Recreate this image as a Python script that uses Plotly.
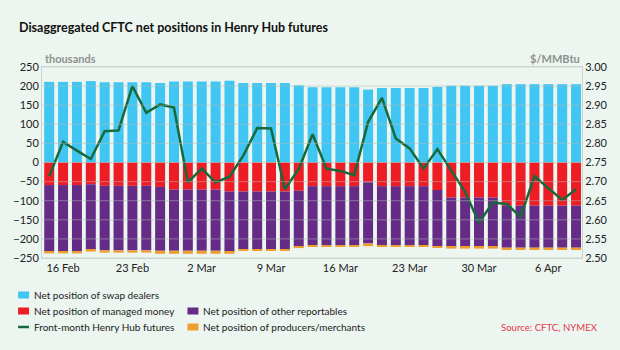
import plotly.graph_objects as go

# Trading days shown on the chart (one bar per session)
day_index = list(range(39))

tick_positions = [1, 6, 11, 16, 21, 26, 31, 36]
tick_labels = ["16 Feb", "23 Feb", "2 Mar", "9 Mar", "16 Mar", "23 Mar", "30 Mar", "6 Apr"]

# Net positions, thousands of contracts
swap_dealers = [211, 211, 211, 213, 210, 210, 210, 210, 208, 212, 212, 212, 212, 214,
                208, 208, 208, 208, 202, 197, 197, 197, 197, 191, 195, 195, 195, 195,
                198, 201, 201, 201, 201, 205, 205, 205, 205, 205, 205]
managed_money = [-59, -59, -59, -57, -61, -61, -61, -61, -64, -71, -71, -71, -71, -76,
                 -76, -76, -76, -76, -74, -62, -62, -62, -62, -52, -62, -62, -62, -62,
                 -72, -92, -92, -92, -92, -113, -113, -113, -113, -113, -113]
other_reportables = [-175, -175, -175, -172, -169, -169, -169, -169, -167, -160, -160, -160,
                     -160, -158, -151, -151, -151, -151, -147, -154, -154, -154, -154, -160,
                     -154, -154, -154, -154, -147, -129, -129, -129, -129, -110, -110, -110,
                     -110, -110, -110]
producers_merchants = [-4, -4, -4, -4, -6, -6, -6, -6, -8, -8, -8, -8, -8, -5,
                       -3.5, -3.5, -3.5, -3.5, -3, -4.5, -4.5, -4.5, -4.5, -7, -4.5, -4.5,
                       -4.5, -4.5, -4.5, -4.5, -4.5, -4.5, -4.5, -6, -6, -6, -6, -6, -6]

# Front-month Henry Hub futures, $/MMBtu
henry_hub = [2.714, 2.804, 2.781, 2.759, 2.832, 2.834, 2.950, 2.880, 2.902, 2.894,
             2.698, 2.734, 2.698, 2.713, 2.768, 2.840, 2.839, 2.680, 2.733, 2.824,
             2.734, 2.728, 2.717, 2.856, 2.919, 2.813, 2.787, 2.734, 2.785, 2.730,
             2.673, 2.592, 2.646, 2.641, 2.608, 2.714, 2.683, 2.652, 2.680]

left_ticks = list(range(-250, 251, 50))
right_ticks = [2.50, 2.55, 2.60, 2.65, 2.70, 2.75, 2.80, 2.85, 2.90, 2.95, 3.00]

BG = "rgb(236,245,239)"
BLUE = "#40C6F2"
RED = "#EE1D25"
PURPLE = "#652B86"
ORANGE = "#EE9E2E"
GREEN = "#17683A"
FONT = "Lato, 'Noto Sans', sans-serif"

W, H = 620, 350
ML, MR, MT, MB = 42, 36, 67, 92
PW, PH = W - ML - MR, H - MT - MB


def px_x(px):
    return (px - ML) / PW


def px_y(py):
    return (H - MB - py) / PH


fig = go.Figure()
bar_style = dict(x=day_index, marker_line_width=0)
fig.add_trace(go.Bar(y=swap_dealers, marker_color=BLUE, name="Net position of swap dealers", **bar_style))
fig.add_trace(go.Bar(y=managed_money, marker_color=RED, name="Net position of managed money", **bar_style))
fig.add_trace(go.Bar(y=other_reportables, marker_color=PURPLE, name="Net position of other reportables", **bar_style))
fig.add_trace(go.Bar(y=producers_merchants, marker_color=ORANGE, name="Net position of producers/merchants", **bar_style))
fig.add_trace(go.Scatter(x=day_index, y=henry_hub, yaxis="y2", mode="lines",
                         line=dict(color=GREEN, width=2.5), name="Front-month Henry Hub futures"))

# Gridlines drawn over the bars
shapes = []
for v in left_ticks:
    shapes.append(dict(type="line", xref="paper", yref="y", x0=0, x1=1, y0=v, y1=v,
                       line=dict(color="rgba(180,188,183,0.5)", width=1), layer="above"))


def note(text, x, y, xanchor, size, color):
    return dict(text=text, xref="paper", yref="paper", x=px_x(x), y=px_y(y),
                xanchor=xanchor, yanchor="middle", showarrow=False,
                font=dict(size=size, color=color))


annotations = [
    note("<b>Disaggregated CFTC net positions in Henry Hub futures</b>", 17, 27, "left", 12.5, "#111111"),
    note("<b>thousands</b>", 43, 58, "left", 11, "#8c918e"),
    note("<b>$/MMBtu</b>", 584, 58, "right", 11, "#8c918e"),
    note("Source: CFTC, NYMEX", 602, 327, "right", 9.6, "#E8364C"),
]

legend_items = [
    ("Net position of swap dealers", BLUE, "box", 18, 295),
    ("Net position of managed money", RED, "box", 18, 311),
    ("Front-month Henry Hub futures", GREEN, "line", 18, 327),
    ("Net position of other reportables", PURPLE, "box", 188, 311),
    ("Net position of producers/merchants", ORANGE, "box", 188, 327),
]
for label, color, kind, x0, yc in legend_items:
    if kind == "box":
        shapes.append(dict(type="rect", xref="paper", yref="paper",
                           x0=px_x(x0), x1=px_x(x0 + 11), y0=px_y(yc + 3.5), y1=px_y(yc - 3.5),
                           fillcolor=color, line=dict(width=0)))
    else:
        shapes.append(dict(type="line", xref="paper", yref="paper",
                           x0=px_x(x0), x1=px_x(x0 + 11), y0=px_y(yc), y1=px_y(yc),
                           line=dict(color=color, width=2.5)))
    annotations.append(note(label, x0 + 14, yc, "left", 10, "#222222"))

fig.update_layout(
    width=W, height=H,
    margin=dict(l=ML, r=MR, t=MT, b=MB, pad=0),
    paper_bgcolor=BG, plot_bgcolor=BG,
    barmode="relative", bargap=0.28,
    showlegend=False,
    font=dict(family=FONT, size=11, color="#222222"),
    xaxis=dict(range=[-0.52, 38.43], tickvals=tick_positions, ticktext=tick_labels,
               showgrid=False, zeroline=False, showline=True, mirror=True,
               linecolor="#cdd4cf", linewidth=1, ticks="", tickfont=dict(size=11)),
    yaxis=dict(range=[-250, 250], tickvals=left_ticks, showgrid=False, zeroline=False,
               showline=True, linecolor="#cdd4cf", linewidth=1, ticks="",
               tickfont=dict(size=11)),
    yaxis2=dict(range=[2.5, 3.0], tickvals=right_ticks, tickformat=".2f", overlaying="y",
                side="right", showgrid=False, zeroline=False, showline=True,
                linecolor="#cdd4cf", linewidth=1, ticks="", tickfont=dict(size=11)),
    shapes=shapes,
    annotations=annotations,
)

fig.write_html("out.html")
